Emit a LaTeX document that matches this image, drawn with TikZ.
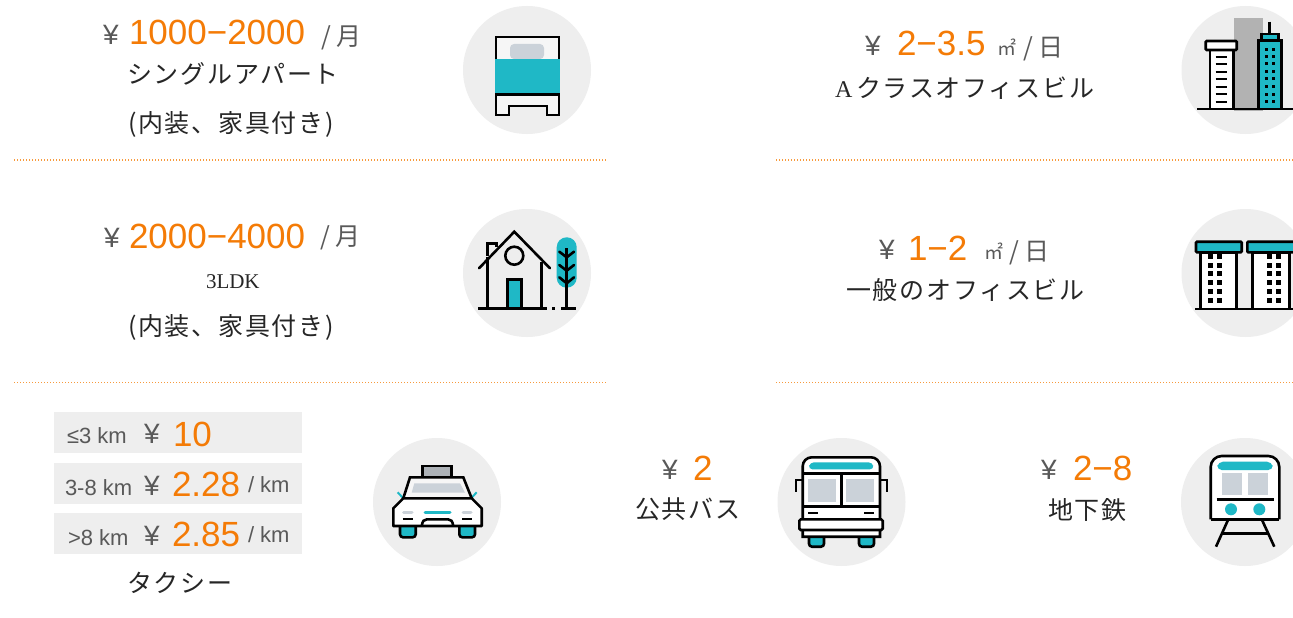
\documentclass[tikz,border=0pt]{standalone}
\usepackage{fontspec}
\setmainfont{Liberation Sans}
\newfontfamily\jpfont[LetterSpace=7]{Noto Sans CJK JP}
\newfontfamily\jpplain{Noto Sans CJK JP}
\newfontfamily\seriffnt{Liberation Serif}
\definecolor{tealc}{HTML}{1FB8C6}
\definecolor{orangec}{HTML}{F47B06}
\definecolor{greyc}{HTML}{EEEEEE}
\definecolor{paneC}{HTML}{CBD2D9}
\definecolor{inkc}{HTML}{595959}
\definecolor{labelc}{HTML}{262626}
\definecolor{bodyc}{HTML}{F6F6F6}
\definecolor{dotc}{HTML}{F79A3C}
\tikzset{
  txt/.style={anchor=base west,inner sep=0pt,outer sep=0pt},
  yen/.style={txt,text=inkc,font=\fontsize{28}{28}\selectfont},
  price/.style={txt,text=orangec,font=\fontsize{35}{35}\selectfont},
  unitc/.style={txt,text=inkc,font=\fontsize{25}{25}\jpplain},
  sqm/.style={txt,text=inkc,font=\fontsize{19}{19}\jpplain},
  jplabel/.style={txt,text=labelc,font=\fontsize{25}{25}\jpfont},
  dist/.style={txt,text=inkc,font=\fontsize{22}{22}\selectfont},
  disk/.style={circle,fill=greyc,minimum size=128pt,inner sep=0pt},
  bar/.style={rectangle,fill=greyc,minimum width=248pt,minimum height=41pt,inner sep=0pt,anchor=north west},
  sep/.style={dotc,line width=1.3pt,dash pattern=on 1.4pt off 1.6pt},
  ink/.style={draw=black,line width=2.6pt},
  thin/.style={draw=black,line width=2pt},
}
\begin{document}
\begin{tikzpicture}[x=1pt,y=-1pt]
\clip (0,0) rectangle (1293,618);
\fill[white] (0,0) rectangle (1293,618);
% separators
\coordinate (s1a) at (14,160);\coordinate (s1b) at (606,160);
\coordinate (s2a) at (776,160);\coordinate (s2b) at (1293,160);
\coordinate (s3a) at (14,382.5);\coordinate (s3b) at (606,382.5);
\coordinate (s4a) at (776,382.5);\coordinate (s4b) at (1293,382.5);
\draw[sep] (s1a) -- (s1b);\draw[sep] (s2a) -- (s2b);
\draw[sep] (s3a) -- (s3b);\draw[sep] (s4a) -- (s4b);
% discs
\node[disk] (dBed) at (527,70) {};
\node[disk] (dHouse) at (527,273) {};
\node[disk] (dOffA) at (1245.5,70) {};
\node[disk] (dOffB) at (1245.5,273) {};
\node[disk] (dTaxi) at (437,502) {};
\node[disk] (dBus) at (841.5,502) {};
\node[disk] (dSub) at (1245,502) {};
% row 1 left
\node[yen] (y1) at (103,45) {¥};
\node[price] (p1) at (129,45) {1000−2000};
\node[unitc] (u1) at (321,46) {/ 月};
\node[jplabel] (l1) at (127,84) {シングルアパート};
\node[jplabel] (l1b) at (128,132) {(内装、家具付き)};
% row 2 left
\node[yen] (y2) at (104,247) {¥};
\node[price] (p2) at (129,248) {2000−4000};
\node[unitc] (u2) at (320,245) {/ 月};
\node[txt,text=labelc,font=\fontsize{21}{21}\seriffnt] (l2) at (206,288) {3LDK};
\node[jplabel] (l2b) at (128,335) {(内装、家具付き)};
% row 1 right
\node[yen] (y3) at (865,56) {¥};
\node[price] (p3) at (897,56) {2−3.5};
\node[sqm] (m3) at (997,56) {㎡};
\node[unitc] (u3) at (1023,57) {/ 日};
\node[txt,text=labelc,font=\fontsize{24}{24}\seriffnt] (l3a) at (835,97) {A};
\node[jplabel] (l3) at (856,97) {クラスオフィスビル};
% row 2 right
\node[yen] (y4) at (879,259) {¥};
\node[price] (p4) at (908,260) {1−2};
\node[sqm] (m4) at (984,259) {㎡};
\node[unitc] (u4) at (1009,260) {/ 日};
\node[jplabel] (l4) at (846,299) {一般のオフィスビル};
% taxi bars
\node[bar] (b1) at (54,412) {};
\node[bar] (b2) at (54,463) {};
\node[bar] (b3) at (54,513) {};
\node[dist] (d1) at (67,443) {≤3 km};
\node[yen] (y5) at (144,443) {¥};
\node[price] (p5) at (173,446) {10};
\node[dist] (d2) at (65,495) {3-8 km};
\node[yen] (y6) at (144,495) {¥};
\node[price] (p6) at (172,496) {2.28};
\node[dist] (k6) at (248,492) {/ km};
\node[dist] (d3) at (68,545) {>8 km};
\node[yen] (y7) at (144,545) {¥};
\node[price] (p7) at (172,546) {2.85};
\node[dist] (k7) at (248,542) {/ km};
\node[jplabel] (l5) at (127,592) {タクシー};
% bus, subway text
\node[yen] (y8) at (662,479) {¥};
\node[price] (p8) at (693,480) {2};
\node[jplabel] (l8) at (635,518) {公共バス};
\node[yen] (y9) at (1041,479) {¥};
\node[price] (p9) at (1073,480) {2−8};
\node[jplabel] (l9) at (1048,519) {地下鉄};
% === bed
\draw[ink,fill=bodyc] (496,59) -- (496,37) -- (559,37) -- (559,59);
\fill[paneC,rounded corners=4pt] (510,59) -- (510,44) -- (544,44) -- (544,59) -- cycle;
\fill[tealc] (495,59) rectangle (560,93);
\draw[ink,fill=bodyc] (496,94.5) -- (496,115) -- (509,115) -- (509,106) -- (547,106) -- (547,115) -- (559,115) -- (559,94.5) -- cycle;
% === house
\fill[tealc,rounded corners=9.9pt] (556.7,237.3) rectangle (576.7,287.7);
\draw[ink] (487.3,256) -- (487.3,243.3) -- (496.7,243.3) -- (496.7,247);
\draw[ink,line cap=round] (479,268.3) -- (514.3,231.7) -- (550,268.3);
\draw[ink] (487.3,257) -- (487.3,308);
\draw[ink] (541.7,262) -- (541.7,308);
\draw[ink] (514.3,255.7) circle (9);
\draw[ink,fill=tealc] (507.3,308) -- (507.3,279.3) -- (521.7,279.3) -- (521.7,308);
\draw[ink] (478,308.3) -- (547,308.3);
\draw[ink] (552,308.3) -- (555,308.3);
\draw[ink] (561,308.3) -- (576,308.3);
\draw[ink] (566.7,248.3) -- (566.7,308);
\draw[ink,line cap=round] (559.3,251.7) -- (566.7,257.3) -- (574,251.7);
\draw[ink,line cap=round] (559.3,265) -- (566.7,270.7) -- (574,265);
\draw[ink,line cap=round] (559.3,277.3) -- (566.7,283.3) -- (574,277.3);
% === office A
\fill[black!30] (1234.3,18.3) rectangle (1263.3,110.7);
\draw[ink,fill=white] (1210,50) rectangle (1233.3,109);
\draw[ink,fill=white,rounded corners=1pt] (1205.7,41) rectangle (1236.7,50);
\foreach \yy in {57.3,64.3,72,79.3,87.3,94.3,101.7}
  \draw[thin] (1215.7,\yy) -- (1227.3,\yy);
\draw[ink] (1269.7,21.7) -- (1269.7,34);
\draw[ink,fill=tealc] (1261.7,40.7) -- (1261.7,34) -- (1278.3,34) -- (1278.3,40.7);
\draw[ink,fill=tealc] (1258.3,40.7) rectangle (1281.7,109);
\foreach \yy in {49.3,56.7,64,71.3,79,86.3,94,101.7}{
  \fill[black] (1265.2,\yy-1.5) rectangle ++(3,3);
  \fill[black] (1271.8,\yy-1.5) rectangle ++(3,3);
}
\draw[ink] (1197.3,109) -- (1293,109);
% === office B
\draw[ink,fill=white] (1200.7,252.3) rectangle (1236.7,309);
\draw[ink,fill=white] (1252.3,252.3) rectangle (1289.3,309);
\draw[ink,fill=tealc,rounded corners=1pt] (1196,241.7) rectangle (1241.7,252.3);
\draw[ink,fill=tealc,rounded corners=1pt] (1247.3,241.7) rectangle (1295,252.3);
\foreach \yy in {256.7,265.7,273.3,282.3,291,300}{
  \foreach \xx in {1210,1219,1269.3,1278.7}
    \fill[black] (\xx-2.5,\yy-2.5) rectangle ++(5,5);
}
\draw[ink] (1195,309) -- (1293,309);
% === taxi
\draw[tealc,line width=2pt] (397.7,492.3) -- (402.7,497.7);
\draw[tealc,line width=2pt] (476.7,492.3) -- (471.7,497.7);
\draw[ink,fill=tealc,rounded corners=3pt] (400,526) -- (400,537.3) -- (415.7,537.3) -- (415.7,526);
\draw[ink,fill=tealc,rounded corners=3pt] (459.3,526) -- (459.3,537.3) -- (475,537.3) -- (475,526);
\draw[ink,fill=paneC!80!black!90] (422.7,477.3) -- (422.7,466) -- (451.7,466) -- (451.7,477.3);
\draw[ink,fill=bodyc] (410,477.3) -- (463.3,477.3) -- (471.7,498.3) -- (403.3,498.3) -- cycle;
\fill[paneC] (414.3,483.3) -- (460,483.3) -- (465,492.7) -- (411.7,492.7) -- cycle;
\draw[ink,fill=white,line join=round] (403.3,498.3) -- (393.3,508.3) -- (393.3,526) -- (481.7,526) -- (481.7,508.3) -- (471.7,498.3) -- cycle;
\draw[tealc,line width=3pt,line cap=round] (425,512) -- (450,512);
\draw[paneC,line width=3pt,line cap=round] (403.5,512) -- (412,512);
\draw[paneC,line width=3pt,line cap=round] (463,512) -- (471,512);
\draw[thin] (402.7,519) -- (412.7,519);
\draw[thin] (462.3,519) -- (471.7,519);
\draw[ink] (421.7,526) .. controls (422.5,521) and (424,519.3) .. (427,519.3) -- (448,519.3) .. controls (451,519.3) and (452.5,521) .. (453.3,526);
% === bus
\draw[thin] (802.3,480) -- (796,480) -- (796,491.7);
\draw[thin] (880,480) -- (886.7,480) -- (886.7,491.7);
\draw[ink,fill=tealc,rounded corners=3pt] (809,536.7) -- (809,546.7) -- (824,546.7) -- (824,536.7);
\draw[ink,fill=tealc,rounded corners=3pt] (859,536.7) -- (859,546.7) -- (874,546.7) -- (874,536.7);
\draw[ink,fill=white] (802.7,536.7) [rounded corners=9pt] -- (802.7,457.3) -- (880,457.3) [sharp corners] -- (880,536.7) -- cycle;
\fill[tealc,rounded corners=4pt] (808.3,469.3) -- (810,462.3) -- (872.5,462.3) -- (874,469.3) -- cycle;
\draw[ink] (802.7,473.3) -- (880,473.3);
\fill[paneC] (808.3,479.3) rectangle (836,501.7);
\fill[paneC] (846,479.3) rectangle (874,501.7);
\draw[ink] (841.7,473.3) -- (841.7,506.7);
\draw[ink] (802.7,506.7) -- (880,506.7);
\draw[thin] (808.3,513.3) -- (818.3,513.3);
\draw[thin] (864.3,513.3) -- (874.3,513.3);
\draw[ink,fill=white,rounded corners=1.5pt] (799.3,519.3) rectangle (882.7,530);
% === subway
\draw[ink] (1228.3,519.3) -- (1216,546.7);
\draw[ink] (1261.7,519.3) -- (1274.3,546.7);
\draw[ink] (1222.7,533.3) -- (1268.3,533.3);
\draw[ink,fill=white,rounded corners=11pt] (1210.7,519.3) -- (1210.7,456) -- (1279.3,456) -- (1279.3,519.3);
\draw[ink] (1210.7,519.3) -- (1279.3,519.3);
\fill[tealc,rounded corners=5pt] (1216.7,470) -- (1218,461.7) -- (1272,461.7) -- (1273.3,470) -- cycle;
\fill[paneC] (1221.7,472.7) rectangle (1242.3,495);
\fill[paneC] (1247.7,472.7) rectangle (1268.3,495);
\draw[ink] (1216.7,499.3) -- (1274,499.3);
\fill[tealc] (1231,509.3) circle (6);
\fill[tealc] (1259.3,509.3) circle (6);
\end{tikzpicture}
\end{document}
